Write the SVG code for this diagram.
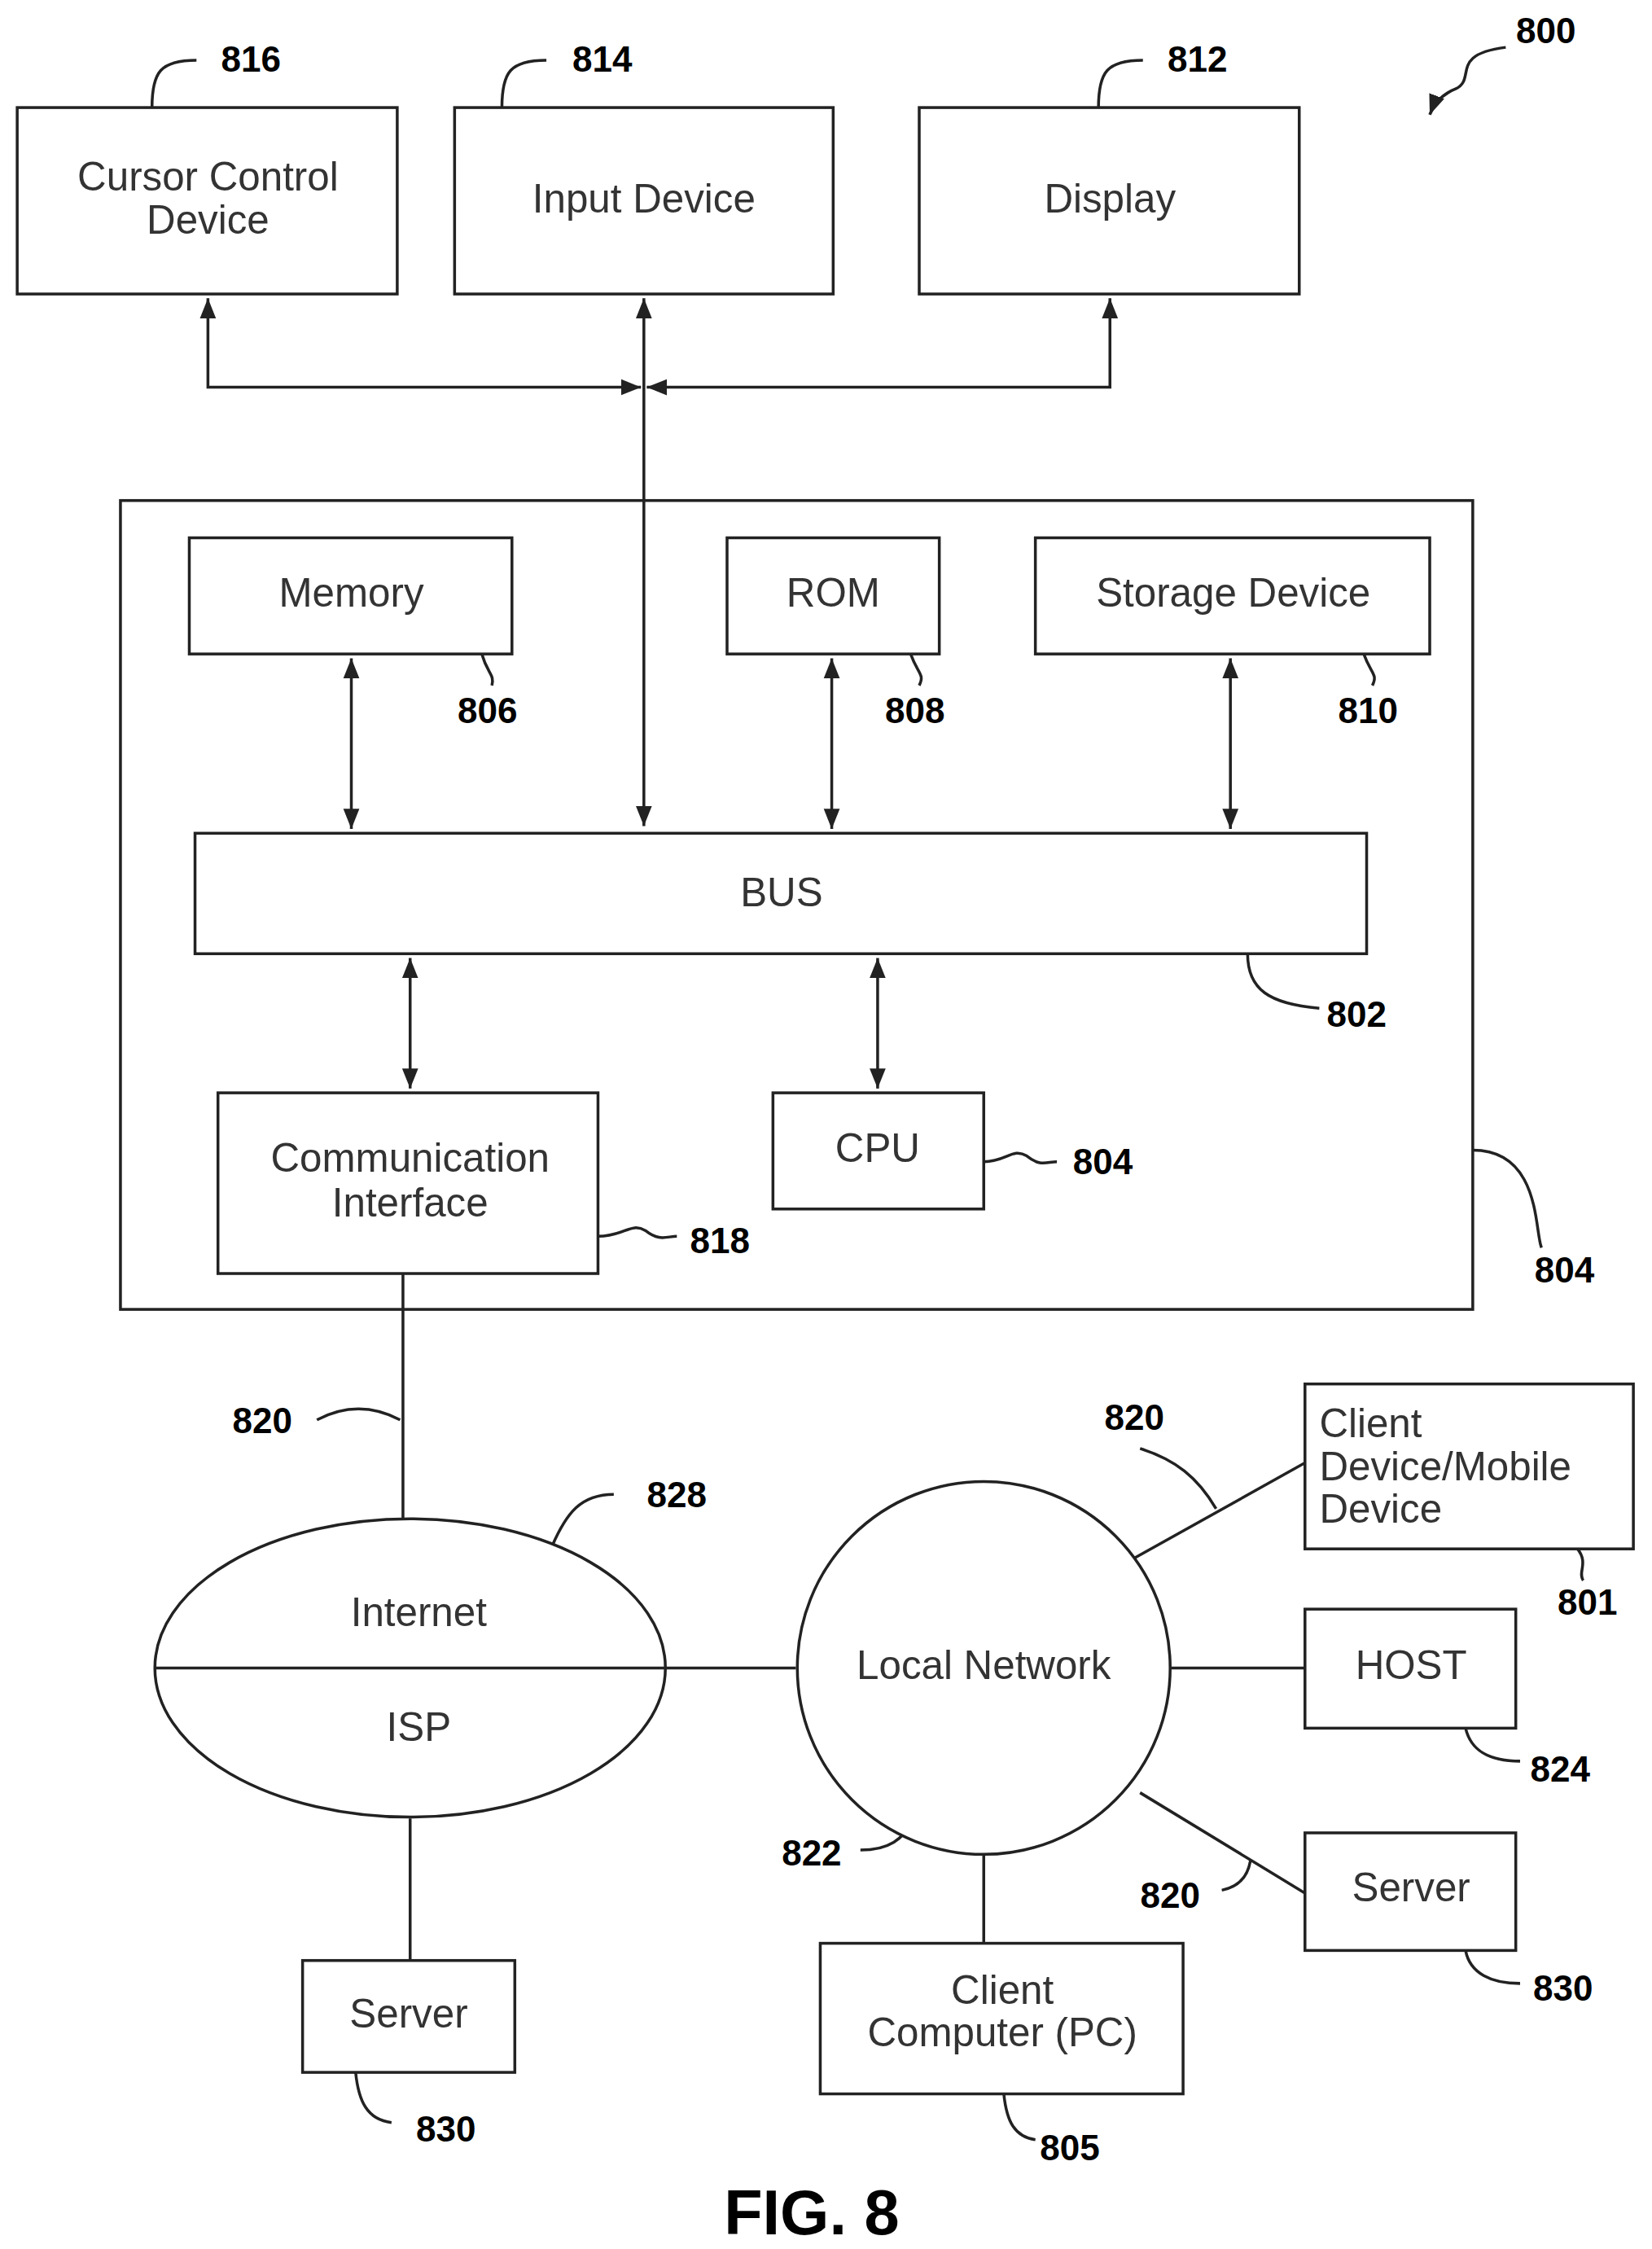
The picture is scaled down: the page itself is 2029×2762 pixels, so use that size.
<svg xmlns="http://www.w3.org/2000/svg" width="2029" height="2762" viewBox="0 0 2029 2762">
<defs>
<style>
.b{fill:#fff;stroke:#222;stroke-width:2}
.l{fill:none;stroke:#222;stroke-width:2}
.t{font-family:"Liberation Sans",Arial,sans-serif;font-size:28px;fill:#333;text-anchor:middle}
.s{text-anchor:start}
.n{font-family:"Liberation Sans",Arial,sans-serif;font-size:25px;font-weight:bold;fill:#000;text-anchor:middle}
</style>
<marker id="a" viewBox="0 0 10 10" refX="10" refY="5" markerWidth="7" markerHeight="7" orient="auto-start-reverse"><path d="M0,1 L10,5 L0,9 z" fill="#222"/></marker>
</defs>
<rect width="2029" height="2762" fill="#fff"/>
<g transform="scale(1.7613)">
<g id="connectors">
<line class="l" x1="449" y1="208" x2="449" y2="576" marker-start="url(#a)" marker-end="url(#a)"/>
<polyline class="l" points="145,208 145,270 447,270" marker-start="url(#a)" marker-end="url(#a)"/>
<polyline class="l" points="774,208 774,270 451,270" marker-start="url(#a)" marker-end="url(#a)"/>
<line class="l" x1="245" y1="459" x2="245" y2="578" marker-start="url(#a)" marker-end="url(#a)"/>
<line class="l" x1="580" y1="459" x2="580" y2="578" marker-start="url(#a)" marker-end="url(#a)"/>
<line class="l" x1="858" y1="459" x2="858" y2="578" marker-start="url(#a)" marker-end="url(#a)"/>
<line class="l" x1="286" y1="668" x2="286" y2="759" marker-start="url(#a)" marker-end="url(#a)"/>
<line class="l" x1="612" y1="668" x2="612" y2="759" marker-start="url(#a)" marker-end="url(#a)"/>
<line class="l" x1="281" y1="888" x2="281" y2="1060"/>
<line class="l" x1="464" y1="1163" x2="555" y2="1163"/>
<line class="l" x1="817" y1="1163" x2="910" y2="1163"/>
<line class="l" x1="790" y1="1087" x2="910" y2="1020"/>
<line class="l" x1="795" y1="1250" x2="910" y2="1320"/>
<line class="l" x1="686" y1="1288" x2="686" y2="1355"/>
<line class="l" x1="286" y1="1268" x2="286" y2="1367"/>
</g>
<g id="leaders">
<path class="l" d="M106,75 C106,50 112,42 137,42"/>
<path class="l" d="M350,75 C350,50 356,42 381,42"/>
<path class="l" d="M766,75 C766,50 772,42 797,42"/>
<path class="l" d="M1050,33 C1010,38 1030,55 1015,62 C1005,66 1000,72 997,80" marker-end="url(#a)"/>
<path class="l" d="M336,456 C340,470 345,470 343,478"/>
<path class="l" d="M635,456 C640,470 645,470 641,478"/>
<path class="l" d="M951,456 C956,470 961,470 957,478"/>
<path class="l" d="M870,665 C870,690 885,700 920,703"/>
<path class="l" d="M417,862 C435,862 440,852 450,858 C460,866 465,862 472,862"/>
<path class="l" d="M686,810 C702,810 706,800 716,806 C726,814 730,810 737,810"/>
<path class="l" d="M1027,802 C1075,802 1070,860 1075,870"/>
<path class="l" d="M221,990 C240,980 260,980 279,990"/>
<path class="l" d="M385,1078 C395,1055 405,1042 428,1042"/>
<path class="l" d="M795,1010 C820,1018 835,1030 848,1052"/>
<path class="l" d="M1100,1080 C1108,1090 1100,1096 1104,1102"/>
<path class="l" d="M1022,1205 C1026,1222 1040,1228 1060,1228"/>
<path class="l" d="M600,1290 C620,1290 630,1282 636,1270"/>
<path class="l" d="M852,1318 C862,1316 870,1310 872,1297"/>
<path class="l" d="M700,1460 C702,1480 708,1490 722,1492"/>
<path class="l" d="M248,1445 C250,1465 256,1478 273,1480"/>
<path class="l" d="M1022,1360 C1025,1376 1040,1383 1060,1383"/>
</g>
<g id="n816"><rect class="b" x="12" y="75" width="265" height="130"/><text class="t" x="145" y="133">Cursor Control</text><text class="t" x="145" y="163">Device</text><text class="n" x="175" y="50">816</text></g>
<g id="n814"><rect class="b" x="317" y="75" width="264" height="130"/><text class="t" x="449" y="148">Input Device</text><text class="n" x="420" y="50">814</text></g>
<g id="n812"><rect class="b" x="641" y="75" width="265" height="130"/><text class="t" x="774" y="148">Display</text><text class="n" x="835" y="50">812</text></g>
<g id="n800"><text class="n" x="1078" y="30">800</text></g>
<g id="n804outer"><rect x="84" y="349" width="943" height="564" fill="none" stroke="#222" stroke-width="2"/><text class="n" x="1091" y="894">804</text></g>
<g id="n806"><rect class="b" x="132" y="375" width="225" height="81"/><text class="t" x="245" y="423">Memory</text><text class="n" x="340" y="504">806</text></g>
<g id="n808"><rect class="b" x="507" y="375" width="148" height="81"/><text class="t" x="581" y="423">ROM</text><text class="n" x="638" y="504">808</text></g>
<g id="n810"><rect class="b" x="722" y="375" width="275" height="81"/><text class="t" x="860" y="423">Storage Device</text><text class="n" x="954" y="504">810</text></g>
<g id="n802"><rect class="b" x="136" y="581" width="817" height="84"/><text class="t" x="545" y="632">BUS</text><text class="n" x="946" y="716">802</text></g>
<g id="n818"><rect class="b" x="152" y="762" width="265" height="126"/><text class="t" x="286" y="817">Communication</text><text class="t" x="286" y="848">Interface</text><text class="n" x="502" y="874">818</text></g>
<g id="n804"><rect class="b" x="539" y="762" width="147" height="81"/><text class="t" x="612" y="810">CPU</text><text class="n" x="769" y="819">804</text></g>
<g id="n828"><ellipse class="b" cx="286" cy="1163" rx="178" ry="104"/><line class="l" x1="108" y1="1163" x2="464" y2="1163"/><text class="t" x="292" y="1134">Internet</text><text class="t" x="292" y="1214">ISP</text><text class="n" x="472" y="1051">828</text></g>
<g id="n822"><circle class="b" cx="686" cy="1163" r="130"/><text class="t" x="686" y="1171">Local Network</text><text class="n" x="566" y="1301">822</text></g>
<g id="n801"><rect class="b" x="910" y="965" width="229" height="115"/><text class="t s" x="920" y="1002">Client</text><text class="t s" x="920" y="1032">Device/Mobile</text><text class="t s" x="920" y="1062">Device</text><text class="n" x="1107" y="1126">801</text></g>
<g id="n824"><rect class="b" x="910" y="1122" width="147" height="83"/><text class="t" x="984" y="1171">HOST</text><text class="n" x="1088" y="1242">824</text></g>
<g id="n830r"><rect class="b" x="910" y="1278" width="147" height="82"/><text class="t" x="984" y="1326">Server</text><text class="n" x="1090" y="1395">830</text></g>
<g id="n805"><rect class="b" x="572" y="1355" width="253" height="105"/><text class="t" x="699" y="1397">Client</text><text class="t" x="699" y="1427">Computer (PC)</text><text class="n" x="746" y="1506">805</text></g>
<g id="n830l"><rect class="b" x="211" y="1367" width="148" height="78"/><text class="t" x="285" y="1414">Server</text><text class="n" x="311" y="1493">830</text></g>
<g id="labels820"><text class="n" x="183" y="999">820</text><text class="n" x="791" y="997">820</text><text class="n" x="816" y="1330">820</text></g>
<text class="n" x="566" y="1558" style="font-size:44px">FIG. 8</text>
</g>
</svg>
